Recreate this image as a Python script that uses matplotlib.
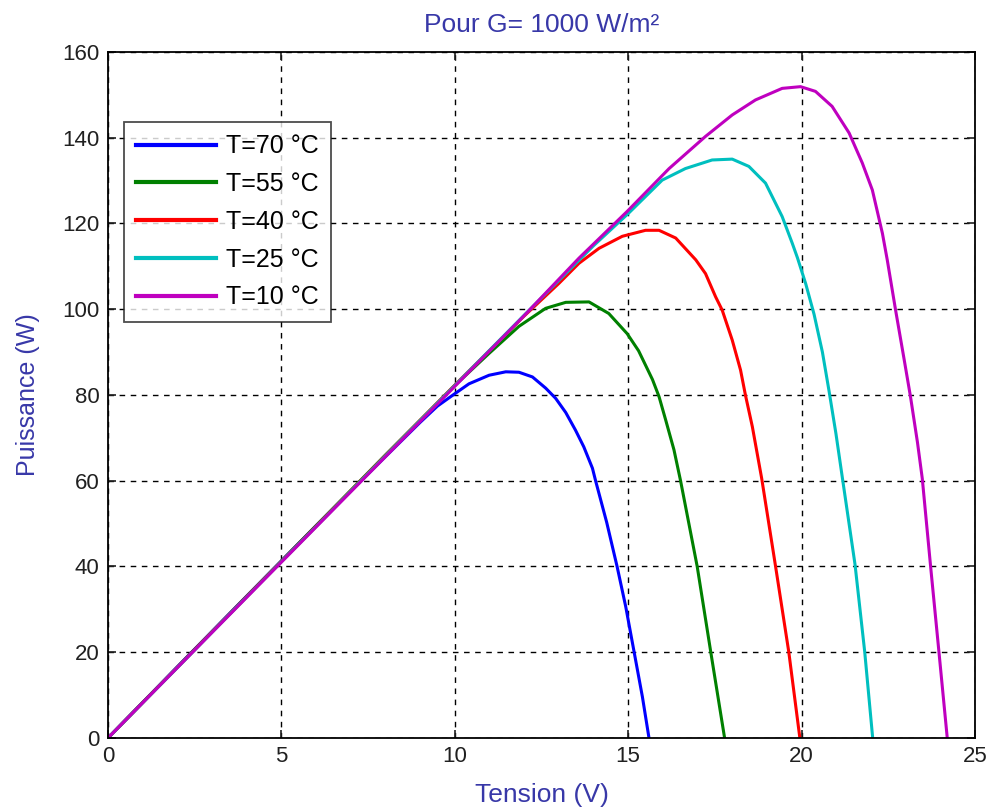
import matplotlib.pyplot as plt

plt.rcParams['font.family'] = ['Liberation Sans', 'DejaVu Sans']

# T = 70 degC
v_70 = [0, 2, 4, 6, 8, 9, 9.5, 9.95, 10.41, 10.99, 11.47, 11.85, 12.24, 12.62, 12.91,
        13.2, 13.48, 13.72, 13.97, 14.06, 14.38, 14.68, 14.93, 15.17, 15.41, 15.6]
p_70 = [0, 16.6, 33.1, 49.5, 65.6, 73.6, 77.4, 80.0, 82.6, 84.6, 85.4, 85.3, 84.2, 81.6, 79.2,
        75.9, 71.8, 67.9, 62.9, 60.0, 50.3, 40.0, 30.6, 20.1, 9.6, 0]

# T = 55 degC
v_55 = [0, 2, 4, 6, 8, 10, 10.99, 11.85, 12.62, 13.2, 13.87, 14.44, 14.97, 15.3,
        15.7, 15.89, 16.08, 16.32, 16.51, 16.99, 17.38, 17.78]
p_55 = [0, 16.5, 33.0, 49.5, 66.0, 82.2, 89.7, 96.0, 100.2, 101.6, 101.7, 99.0, 94.3, 90.3,
        83.6, 79.6, 74.2, 67.2, 60.0, 40.0, 20.1, 0]

# T = 40 degC
v_40 = [0, 2, 4, 6, 8, 10, 12, 13, 13.58, 14.16, 14.83, 15.5, 15.89, 16.37, 16.95,
        17.23, 17.52, 17.71, 18.0, 18.24, 18.38, 18.58, 18.85, 19.25, 19.63, 19.95]
p_40 = [0, 16.5, 33.0, 49.4, 65.9, 82.3, 98.4, 106.0, 110.7, 114.2, 117.0, 118.4, 118.4,
        116.6, 111.5, 108.3, 102.9, 99.8, 92.8, 85.8, 80.0, 72.6, 60.5, 40.0, 20.1, 0]

# T = 25 degC
v_25 = [0, 2, 4, 6, 8, 10, 12, 14, 15.0, 15.98, 16.65, 17.42, 18.0, 18.48, 18.96,
        19.44, 19.73, 19.88, 20.12, 20.36, 20.6, 20.79, 20.99, 21.17, 21.54, 21.82, 22.05]
p_25 = [0, 16.4, 32.9, 49.3, 65.8, 82.2, 98.6, 114.8, 122.3, 130.1, 132.8, 134.8, 135.0,
        133.3, 129.4, 121.6, 115.4, 112.0, 105.9, 98.8, 90.0, 81.0, 71.0, 61.0, 40.5, 20.1, 0]

# T = 10 degC
v_10 = [0, 2, 4, 6, 8, 10, 12, 13.58, 14.97, 16.18, 17.23, 18.0, 18.67, 19.44, 19.97,
        20.40, 20.88, 21.37, 21.75, 22.04, 22.33, 22.47, 22.71, 22.95, 23.14, 23.34, 23.48,
        23.72, 23.96, 24.2]
p_10 = [0, 16.4, 32.8, 49.2, 65.6, 82.0, 98.5, 111.9, 122.8, 132.8, 140.3, 145.3, 148.8,
        151.5, 151.9, 150.8, 147.3, 141.1, 134.1, 127.8, 117.7, 111.5, 99.8, 88.6, 79.6,
        69.0, 60.5, 40.0, 20.1, 0]

labels = ['T=70 °C', 'T=55 °C', 'T=40 °C', 'T=25 °C', 'T=10 °C']
colors = ['#0000ff', '#008000', '#ff0000', '#00bfbf', '#bf00bf']

fig = plt.figure(figsize=(9.95, 8.1), dpi=100)
ax = fig.add_axes([0.1085, 0.0889, 0.8714, 0.847])

series = [(v_70, p_70), (v_55, p_55), (v_40, p_40), (v_25, p_25), (v_10, p_10)]
for (v, p), lab, c in zip(series, labels, colors):
    ax.plot(v, p, color=c, lw=2.2, label=lab)

ax.set_xlim(0, 25)
ax.set_ylim(0, 160)
ax.set_xticks(range(0, 26, 5))
ax.set_yticks(range(0, 161, 20))
ax.grid(True, color='black', linestyle=(0, (4, 4)), linewidth=1.0)
ax.tick_params(direction='in', top=True, right=True, length=6, width=1.2,
               labelsize=16, colors='#202020', pad=6)
for s in ax.spines.values():
    s.set_linewidth(1.3)

ax.set_xlabel('Tension (V)', fontsize=19, color='#3838a8', labelpad=11)
ax.set_ylabel('Puissance (W)', fontsize=18, color='#3838a8', labelpad=16)
ax.set_title('Pour G= 1000 W/m²', fontsize=19, color='#3838a8', pad=14)

leg = ax.legend(loc='upper left', bbox_to_anchor=(0.018, 0.898), borderaxespad=0,
                fontsize=18, frameon=True, fancybox=False, edgecolor='#202020',
                handlelength=3.2, handletextpad=0.4, labelspacing=0.55, borderpad=0.5)
leg.get_frame().set_linewidth(1.3)
for line in leg.get_lines():
    line.set_linewidth(3)

fig.savefig('out.png', dpi=100)
